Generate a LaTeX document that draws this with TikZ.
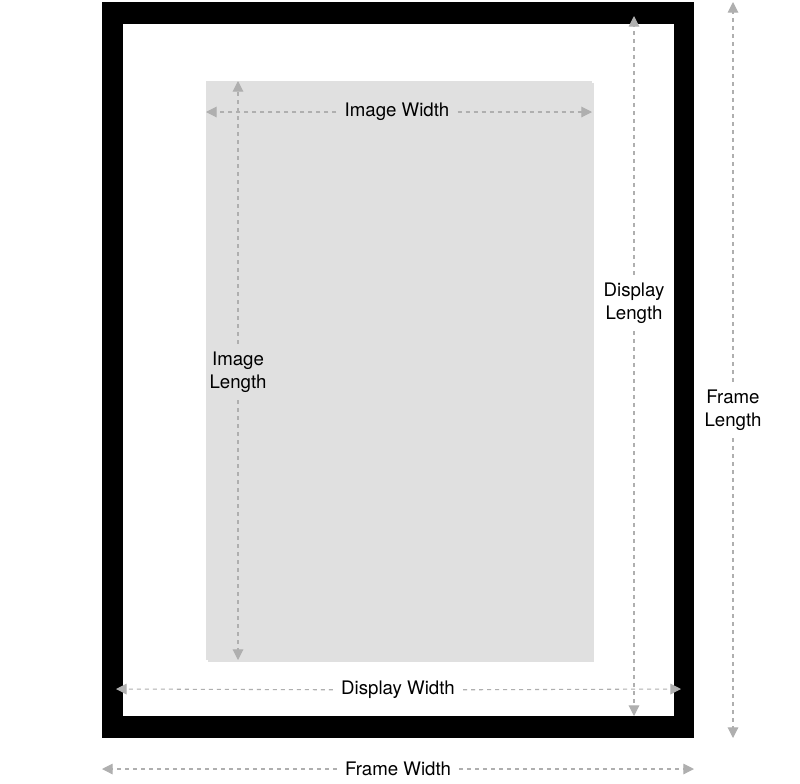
\documentclass[tikz,border=0pt]{standalone}
\usepackage{fontspec}
\setmainfont{TeX Gyre Heros}
\usetikzlibrary{arrows.meta,positioning}
\definecolor{dimcolor}{RGB}{175,175,175}
\definecolor{imagecolor}{RGB}{224,224,224}
\begin{document}
\begin{tikzpicture}[x=0.75pt, y=-0.75pt,
    dimlabel/.style={font=\fontsize{14}{17}\selectfont, align=center, inner sep=6pt},
    dimline/.style={dimcolor, dashed, thick, dash pattern=on 3pt off 3pt, -{Triangle[length=8pt, width=8pt]}},
]
    \useasboundingbox (0,0) rectangle (800,783);

    % Frame, mat and image
    \fill[black] (102,2) rectangle (694,738);
    \fill[white] (123,24) rectangle (674,716);
    \fill[black!12] (208,83) rectangle (594,662);
    \fill[imagecolor] (206,81) rectangle (592,660);

    % End points
    \coordinate (fwl) at (102,769);
    \coordinate (fwr) at (694,769);
    \coordinate (flt) at (733,2);
    \coordinate (flb) at (733,738);
    \coordinate (dwl) at (116,689);
    \coordinate (dwr) at (681,689);
    \coordinate (dlt) at (634,16);
    \coordinate (dlb) at (634,716);
    \coordinate (iwl) at (206,112);
    \coordinate (iwr) at (592,112);
    \coordinate (ilt) at (238,81);
    \coordinate (ilb) at (238,660);

    % Labels
    \node[dimlabel] (fw) at (398,769) {Frame Width};
    \node[dimlabel] (fl) at (733,410) {Frame\\Length};
    \node[dimlabel] (dw) at (398,690) {Display Width};
    \node[dimlabel] (dl) at (634,303) {Display\\Length};
    \node[dimlabel] (iw) at (397,112) {Image Width};
    \node[dimlabel] (il) at (238,372) {Image\\Length};

    % Dimension lines
    \draw[dimline] (fw) -- (fwl);
    \draw[dimline] (fw) -- (fwr);
    \draw[dimline] (fl) -- (flt);
    \draw[dimline] (fl) -- (flb);
    \draw[dimline] (dw) -- (dwl);
    \draw[dimline] (dw) -- (dwr);
    \draw[dimline] (dl) -- (dlt);
    \draw[dimline] (dl) -- (dlb);
    \draw[dimline] (iw) -- (iwl);
    \draw[dimline] (iw) -- (iwr);
    \draw[dimline] (il) -- (ilt);
    \draw[dimline] (il) -- (ilb);
\end{tikzpicture}
\end{document}
